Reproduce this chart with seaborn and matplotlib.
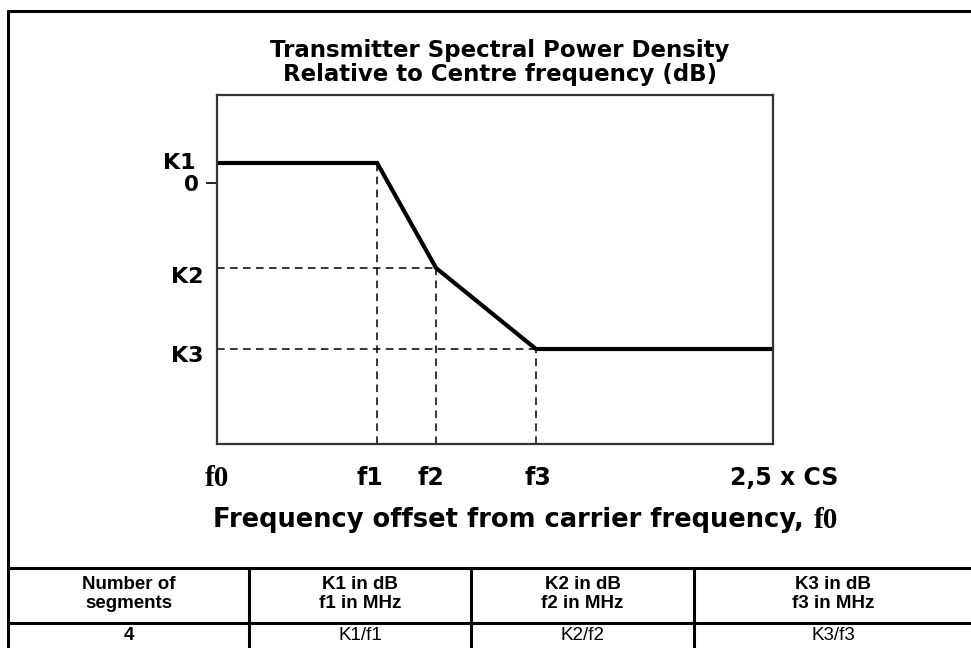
import matplotlib
matplotlib.use("Agg")
import matplotlib.pyplot as plt
from matplotlib.lines import Line2D
import seaborn as sns
import pandas as pd

# ---------------- data ----------------
freq_labels = ["f0", "f1", "f2", "f3", "2,5 x CS"]
freq = [0.0, 0.72, 0.985, 1.434, 2.5]          # offset in units of CS
level = [1.0, 1.0, -4.25, -8.3, -8.3]          # relative level (dB, schematic)
level_labels = ["K1", "K1", "K2", "K3", "K3"]
title_lines = ["Transmitter Spectral Power Density",
               "Relative to Centre frequency (dB)"]
xlabel_text = "Frequency offset from carrier frequency, "
table_header = ["Number of\nsegments", "K1 in dB\nf1 in MHz",
                "K2 in dB\nf2 in MHz", "K3 in dB\nf3 in MHz"]
table_row = ["4", "K1/f1", "K2/f2", "K3/f3"]

sns.set_style("white")
plt.rcParams["font.family"] = ["DejaVu Sans"]
plt.rcParams["text.color"] = "black"
plt.rcParams["axes.labelcolor"] = "black"
plt.rcParams["xtick.color"] = "black"
plt.rcParams["ytick.color"] = "black"

W, H = 971, 648
fig = plt.figure(figsize=(W / 100, H / 100), dpi=100)


def fx(x):
    return x / W


def fy(y):
    return 1 - y / H


SERIF = ["Liberation Serif", "DejaVu Serif"]

# axes placed in pixel box: left 217, right 773, top 95, bottom 444
ax = fig.add_axes([fx(217), fy(444), (773 - 217) / W, (444 - 95) / H])
df = pd.DataFrame({"freq": freq, "level": level})
sns.lineplot(data=df, x="freq", y="level", color="black", linewidth=3.0,
             ax=ax, sort=False, solid_joinstyle="miter")
ax.set_xlim(freq[0], freq[-1])
ax.set_ylim(-13.05, 4.4)

# dashed guide lines
dash = dict(color="black", linewidth=1.1, linestyles=(0, (5, 3.5)))
ax.vlines(freq[1:4], -13.05, level[1:4], **dash)
ax.hlines(level[2:4], freq[0], freq[2:4], **dash)

for s in ax.spines.values():
    s.set_color("#333333")
    s.set_linewidth(1.6)
    s.set_visible(True)

ax.set_xticks([])
ax.set_yticks([0])
ax.set_yticklabels(["0"], fontsize=15.5, fontweight="bold")
ax.tick_params(axis="y", length=8, width=1.4, color="#222222", pad=5,
               left=True)
ax.set_xlabel("")
ax.set_ylabel("")

# level labels
lab_font = dict(fontsize=16, fontweight="bold", ha="right", va="center")
ax.annotate(level_labels[0], xy=(0, level[0]), xycoords=("axes fraction", "data"),
            xytext=(-21, 0), textcoords="offset pixels", **lab_font)
ax.annotate(level_labels[2], xy=(0, level[2]), xycoords=("axes fraction", "data"),
            xytext=(-14, -9), textcoords="offset pixels", **lab_font)
ax.annotate(level_labels[3], xy=(0, level[3]), xycoords=("axes fraction", "data"),
            xytext=(-14, -7), textcoords="offset pixels", **lab_font)

# frequency labels
x_offsets = [0, -7, -5, 2, 11]
for i, (f, lab) in enumerate(zip(freq, freq_labels)):
    if lab == "f0":
        kw = dict(family=SERIF, fontsize=21, fontweight="bold")
    else:
        kw = dict(fontsize=17, fontweight="bold")
    ax.annotate(lab, xy=(f, 0), xycoords=("data", "axes fraction"),
                xytext=(x_offsets[i], -34), textcoords="offset pixels",
                ha="center", va="center", **kw)

# title
fig.text(fx(500), fy(51), title_lines[0], ha="center", va="center",
         fontsize=16.5, fontweight="bold")
fig.text(fx(500), fy(75), title_lines[1], ha="center", va="center",
         fontsize=16.5, fontweight="bold")

# x label (sans part + serif f0)
t1 = fig.text(fx(213), fy(520), xlabel_text, ha="left", va="center",
              fontsize=18.5, fontweight="bold")
fig.canvas.draw()
bb = t1.get_window_extent(renderer=fig.canvas.get_renderer())
fig.text(bb.x1 / W + 1 / W, fy(520), freq_labels[0], ha="left", va="center",
         family=SERIF, fontsize=21, fontweight="bold")


# outer frame and table lines
def hline(y, x0, x1, lw=2.2):
    fig.add_artist(Line2D([fx(x0), fx(x1)], [fy(y), fy(y)], color="black",
                          linewidth=lw, transform=fig.transFigure))


def vline(x, y0, y1, lw=2.2):
    fig.add_artist(Line2D([fx(x), fx(x)], [fy(y0), fy(y1)], color="black",
                          linewidth=lw, transform=fig.transFigure))


hline(11, 8, W)
vline(8, 11, H)
hline(568, 8, W)
hline(623, 8, W)
col_edges = [8, 249, 471, 694, 972]
for x in col_edges[1:4]:
    vline(x, 568, H)

narrow = ["Liberation Sans Narrow", "Liberation Sans", "DejaVu Sans"]
for i in range(4):
    cx = (col_edges[i] + col_edges[i + 1]) / 2
    fig.text(fx(cx), fy(594), table_header[i], ha="center", va="center",
             family=narrow, fontsize=13.5, fontweight="bold", linespacing=1.2)
    fig.text(fx(cx), fy(635), table_row[i], ha="center", va="center",
             family=narrow, fontsize=13.5,
             fontweight="bold" if i == 0 else "normal")

fig.savefig("out.png", dpi=100)
